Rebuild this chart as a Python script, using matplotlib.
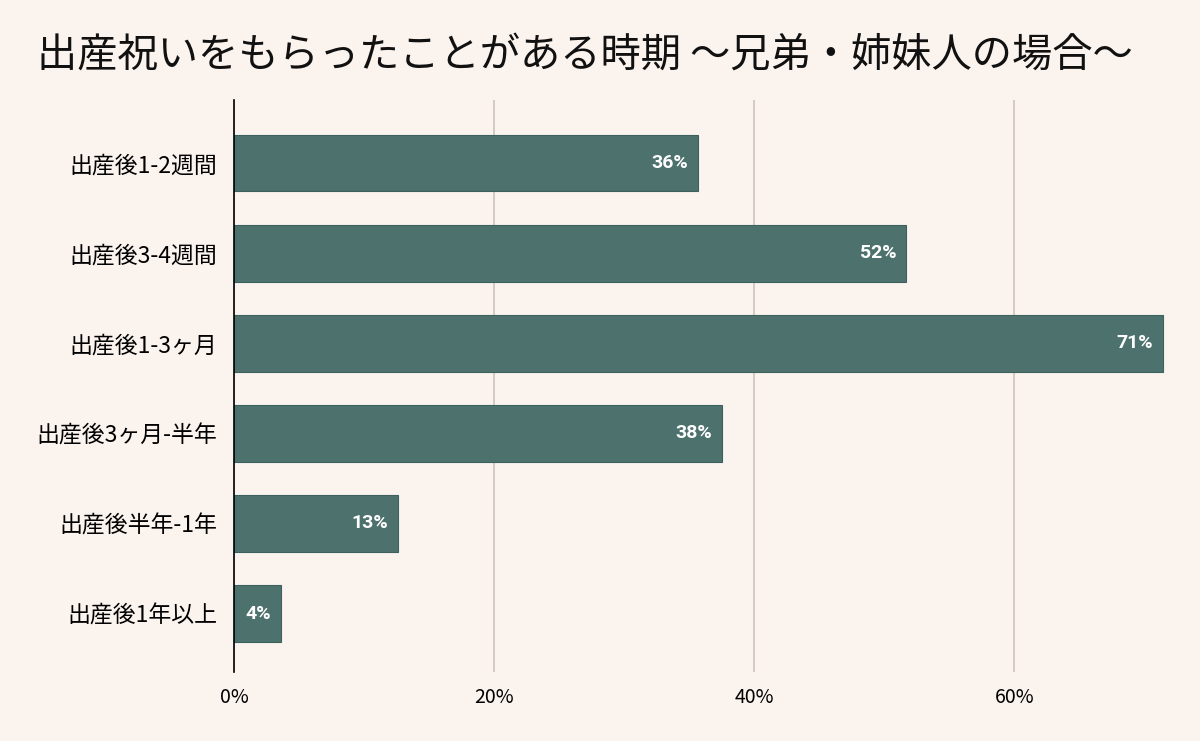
import matplotlib
matplotlib.use("Agg")
import matplotlib.pyplot as plt
from matplotlib.ticker import FuncFormatter

plt.rcParams["font.family"] = ["Noto Sans CJK JP", "DejaVu Sans"]

# data
categories = [
    "出産後1-2週間",
    "出産後3-4週間",
    "出産後1-3ヶ月",
    "出産後3ヶ月-半年",
    "出産後半年-1年",
    "出産後1年以上",
]
values = [35.7, 51.7, 71.4, 37.5, 12.6, 3.6]
x_ticks = [0, 20, 40, 60]
title = "出産祝いをもらったことがある時期 〜兄弟・姉妹人の場合〜"

bg_color = "#FBF3EE"
bar_color = "#4D716D"
edge_color = "#3C625E"
grid_color = "#CDC4BF"

fig = plt.figure(figsize=(12, 7.41), dpi=100)
fig.patch.set_facecolor(bg_color)
ax = fig.add_axes([0.195, 0.093, 0.776, 0.772])
ax.set_facecolor(bg_color)

pos = list(range(len(categories)))
bars = ax.barh(pos, values, height=0.63, color=bar_color,
               edgecolor=edge_color, linewidth=0.8, zorder=2)

for bar, v in zip(bars, values):
    ax.annotate(f"{round(v):.0f}%",
                xy=(bar.get_width(), bar.get_y() + bar.get_height() / 2),
                xytext=(-7, 0), textcoords="offset points",
                ha="right", va="center", color="white",
                fontsize=14, fontweight="semibold",
                family=["Roboto", "DejaVu Sans"], zorder=3)

ax.set_yticks(pos)
ax.set_yticklabels(categories, fontsize=16.5)
ax.set_ylim(5.65, -0.7)
ax.set_xlim(0, 71.6)
ax.set_xticks(x_ticks)
ax.xaxis.set_major_formatter(FuncFormatter(lambda v, _: f"{v:.0f}%"))
ax.tick_params(axis="x", labelsize=14, length=0, pad=11)
ax.tick_params(axis="y", length=0, pad=12)

ax.grid(axis="x", color=grid_color, linewidth=1.2, zorder=0)
ax.grid(axis="y", visible=False)
for side in ["top", "right", "bottom"]:
    ax.spines[side].set_visible(False)
ax.spines["left"].set_color("black")
ax.spines["left"].set_linewidth(1.2)
ax.spines["left"].set_zorder(4)

fig.text(0.031, 0.925, title, fontsize=29, ha="left", va="center", color="#111111")

fig.savefig("out.png", dpi=100, facecolor=bg_color)
